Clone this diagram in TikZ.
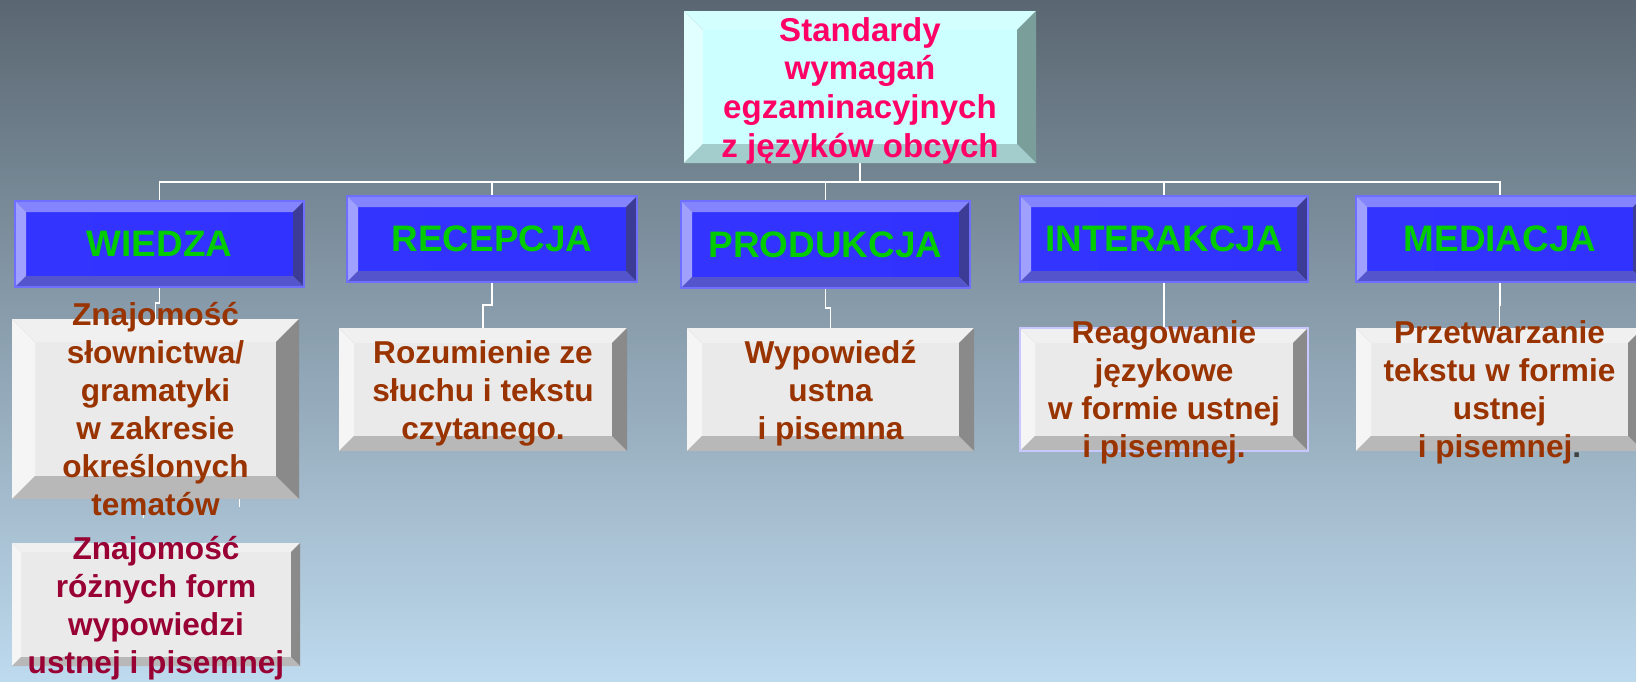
\documentclass[tikz,border=0pt]{standalone}
\usepackage{fontspec}
\setmainfont{Liberation Sans}
\usepackage{tikz}
\usetikzlibrary{backgrounds}
\usetikzlibrary{fit,calc}
\definecolor{skytop}{RGB}{90,103,114}
\definecolor{skymid}{RGB}{146,168,182}
\definecolor{skybot}{RGB}{190,218,238}
\definecolor{pinktxt}{RGB}{255,0,102}
\definecolor{greentxt}{RGB}{0,204,0}
\definecolor{browntxt}{RGB}{153,51,0}
\definecolor{maroontxt}{RGB}{153,0,51}
\tikzstyle{wire}=[draw=white, line width=1.1pt]
% bevel palettes: face, top, left, right, bottom, rim
\tikzstyle{cyanface}=[fill={rgb,255:red,204;green,255;blue,255}]
\tikzstyle{cyantop}=[fill={rgb,255:red,212;green,255;blue,255}]
\tikzstyle{cyanleft}=[fill={rgb,255:red,226;green,255;blue,255}]
\tikzstyle{cyanright}=[fill={rgb,255:red,122;green,158;blue,154}]
\tikzstyle{cyanbot}=[fill={rgb,255:red,163;green,204;blue,204}]
\tikzstyle{cyanrim}=[]
\tikzstyle{blueface}=[left color={rgb,255:red,52;green,52;blue,255}, middle color={rgb,255:red,80;green,80;blue,255}, right color={rgb,255:red,50;green,50;blue,255}]
\tikzstyle{bluetop}=[fill={rgb,255:red,132;green,132;blue,255}]
\tikzstyle{blueleft}=[fill={rgb,255:red,160;green,160;blue,255}]
\tikzstyle{blueright}=[fill={rgb,255:red,60;green,60;blue,150}]
\tikzstyle{bluebot}=[fill={rgb,255:red,84;green,84;blue,204}]
\tikzstyle{bluerim}=[draw={rgb,255:red,110;green,110;blue,255}, line width=0.6pt]
\tikzstyle{grayface}=[fill={rgb,255:red,234;green,234;blue,234}]
\tikzstyle{graytop}=[fill={rgb,255:red,240;green,240;blue,240}]
\tikzstyle{grayleft}=[fill={rgb,255:red,245;green,245;blue,245}]
\tikzstyle{grayright}=[fill={rgb,255:red,138;green,138;blue,138}]
\tikzstyle{graybot}=[fill={rgb,255:red,184;green,184;blue,184}]
\tikzstyle{grayrim}=[]
% gray box with a thin lilac rim
\tikzstyle{lilacface}=[grayface]
\tikzstyle{lilactop}=[graytop]
\tikzstyle{lilacleft}=[grayleft]
\tikzstyle{lilacright}=[grayright]
\tikzstyle{lilacbot}=[graybot]
\tikzstyle{lilacrim}=[draw={rgb,255:red,200;green,200;blue,255}, line width=0.6pt]
\tikzstyle{headtxt}=[text=pinktxt, font=\bfseries\fontsize{18.8}{22}\selectfont, align=center]
\tikzstyle{areatxt}=[text=greentxt, font=\bfseries\fontsize{21}{24}\selectfont]
\tikzstyle{skilltxt}=[text=browntxt, font=\bfseries\fontsize{18}{21.6}\selectfont, align=center]
\pgfdeclarelayer{wires}
\pgfsetlayers{background,wires,main}
\newcommand{\bevbox}[7]{
 \coordinate (#1-nw) at #2;
 \coordinate (#1-se) at #3;
 \coordinate (#1-ne) at (#1-se |- #1-nw);
 \coordinate (#1-sw) at (#1-nw |- #1-se);
 \coordinate (#1-inw) at ($(#1-nw)+(#4,#4)$);
 \coordinate (#1-ise) at ($(#1-se)-(#4,#4)$);
 \coordinate (#1-ine) at (#1-ise |- #1-inw);
 \coordinate (#1-isw) at (#1-inw |- #1-ise);
 \fill[#5face] (#1-inw) rectangle (#1-ise);
 \fill[#5top] (#1-nw) -- (#1-ne) -- (#1-ine) -- (#1-inw) -- cycle;
 \fill[#5left] (#1-nw) -- (#1-inw) -- (#1-isw) -- (#1-sw) -- cycle;
 \fill[#5right] (#1-ne) -- (#1-se) -- (#1-ise) -- (#1-ine) -- cycle;
 \fill[#5bot] (#1-sw) -- (#1-isw) -- (#1-ise) -- (#1-se) -- cycle;
 \node[fit=(#1-nw)(#1-se), inner sep=0pt, #5rim] (#1) {};
 \node[inner sep=0pt, #6] (#1-txt) at (#1.center) {#7};
}
\begin{document}
\begin{tikzpicture}[x=0.02cm, y=-0.02cm]
 \useasboundingbox (0,0) rectangle (1636,681);
 \begin{scope}[on background layer]
  \fill[top color=skytop, middle color=skymid, bottom color=skybot] (0,0) rectangle (1636,681);
 \end{scope}
%
 \bevbox{stds}{(684,11)}{(1036,163)}{19}{cyan}{headtxt, yshift=-2pt}{Standardy\\wymaga\'n\\egzaminacyjnych\\z j\k{e}zyk\'ow obcych}
%
 \bevbox{wiedza}{(15,201)}{(304,287)}{11}{blue}{areatxt}{WIEDZA}
 \bevbox{recepcja}{(347,196)}{(637,282)}{11}{blue}{areatxt}{RECEPCJA}
 \bevbox{produkcja}{(681,201)}{(970,288)}{11}{blue}{areatxt}{PRODUKCJA}
 \bevbox{interakcja}{(1020,196)}{(1308,282)}{11}{blue}{areatxt}{INTERAKCJA}
 \bevbox{mediacja}{(1356,196)}{(1644,282)}{11}{blue}{areatxt}{MEDIACJA}
%
 \bevbox{kn1}{(12,319)}{(299,499)}{23}{gray}{skilltxt}{Znajomo\'s\'c\\s\l{}ownictwa/\\gramatyki\\w zakresie\\okre\'slonych\\temat\'ow}
 \bevbox{kn2}{(12,543)}{(300,666)}{9}{gray}{skilltxt, text=maroontxt, yshift=-2pt}{Znajomo\'s\'c\\r\'o\.znych form\\wypowiedzi\\ustnej i pisemnej}
 \bevbox{rec1}{(339,328)}{(627,451)}{15}{gray}{skilltxt, yshift=-2pt}{Rozumienie ze\\s\l{}uchu i tekstu\\czytanego.}
 \bevbox{prod1}{(687,328)}{(974,451)}{15}{gray}{skilltxt, yshift=-2pt}{Wypowied\'z\\ustna\\i pisemna}
 \bevbox{int1}{(1020,328)}{(1308,451)}{15}{lilac}{skilltxt, yshift=-1.5pt}{Reagowanie\\j\k{e}zykowe\\w formie ustnej\\i pisemnej.}
 \bevbox{med1}{(1356,328)}{(1643,451)}{15}{gray}{skilltxt, yshift=-1.5pt}{Przetwarzanie\\tekstu w formie\\ustnej\\i pisemnej{\color{darkgray}.}}
%
 \begin{pgfonlayer}{wires}
  \foreach \n in {wiedza,recepcja,produkcja,interakcja,mediacja}
   \draw[wire] (stds.south) -- ++(0,19) -| (\n.north);
  \foreach \p/\c in {wiedza/kn1,recepcja/rec1,produkcja/prod1,interakcja/int1,mediacja/med1}
   \draw[wire] (\p.south) |- ($(\p.south)!.5!(\c.north)$) -| (\c.north);
  \draw[wire] ($(kn1.south)+(-12,19)$) -- ($(kn1.south)+(-12,0)$ |- kn2.north);
  \draw[wire] ($(kn1.south)+(84,0)$) -- ++(0,8);
 \end{pgfonlayer}
\end{tikzpicture}
\end{document}
